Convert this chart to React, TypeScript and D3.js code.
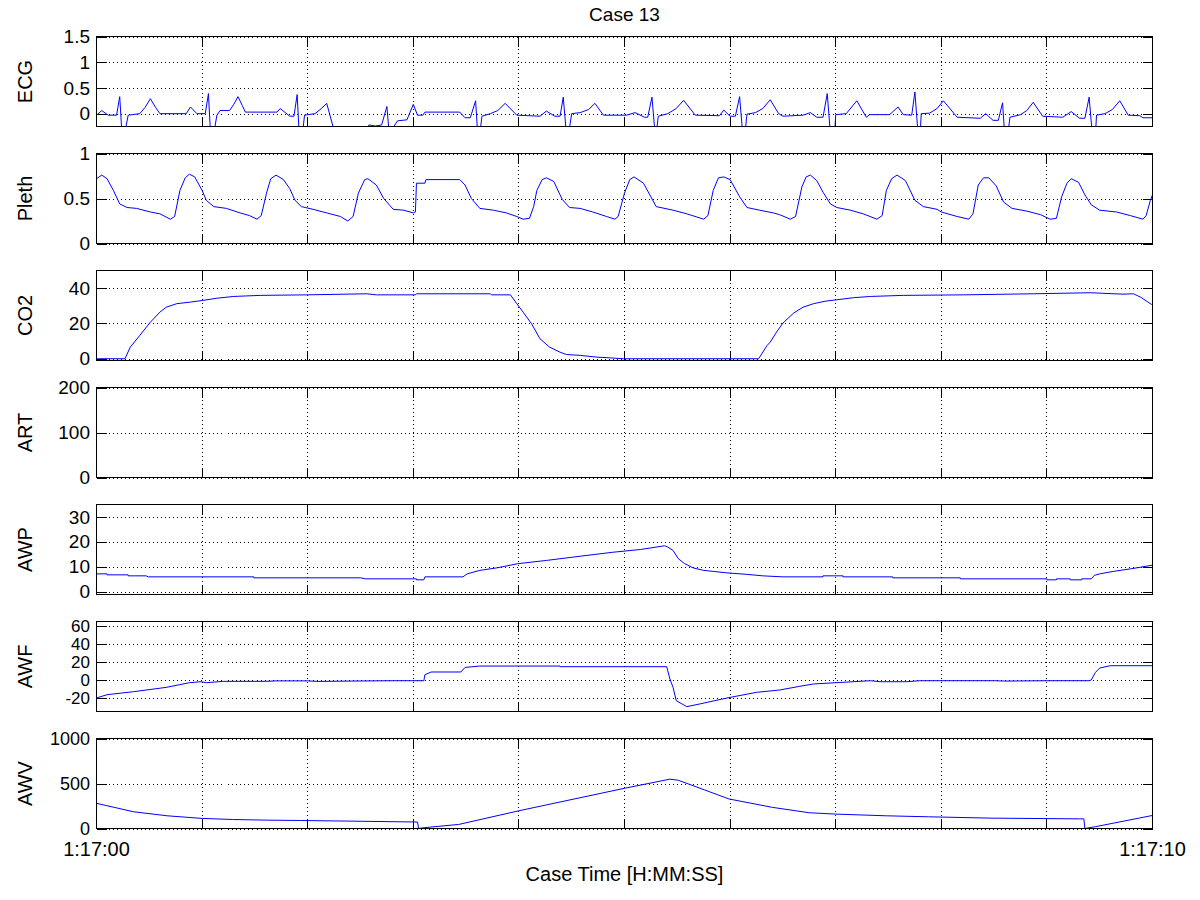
import React from "react";
import * as d3 from "d3";

type P = [number, number];

const chartTitle = "Case 13";
const xLabel = "Case Time [H:MM:SS]";
const xTicks = [0, 1, 2, 3, 4, 5, 6, 7, 8, 9, 10];
const xTickLabels = ["1:17:00", "", "", "", "", "", "", "", "", "", "1:17:10"];

const ecgPoints: P[] = [
  [0.0, -0.03], [0.05, 0.06], [0.11, -0.03], [0.19, -0.03], [0.22, 0.33], [0.24, -0.35], [0.27, -0.35], [0.3, -0.03],
  [0.41, 0.0], [0.46, 0.12], [0.51, 0.29], [0.56, 0.12], [0.6, 0.0], [0.85, 0.0], [0.89, 0.13], [0.95, 0.0], [1.03, 0.0], [1.06, 0.39],
  [1.08, -0.4], [1.11, -0.4], [1.14, -0.03], [1.17, 0.06], [1.26, 0.06], [1.3, 0.18], [1.34, 0.33], [1.38, 0.16], [1.41, 0.03], [1.71, 0.03],
  [1.74, 0.1], [1.83, -0.05], [1.87, -0.05], [1.9, 0.37], [1.92, -0.4], [1.95, -0.4], [1.97, -0.03], [2.07, 0.0],
  [2.13, 0.1], [2.18, 0.2], [2.24, -0.25], [2.31, -0.6], [2.5, -0.6], [2.58, -0.22], [2.64, -0.24], [2.7, -0.22], [2.75, 0.14],
  [2.77, -0.35], [2.8, -0.3], [2.85, -0.14], [2.94, -0.12], [3.0, 0.18], [3.04, -0.03], [3.09, -0.03], [3.11, 0.03],
  [3.44, 0.03], [3.49, -0.08], [3.54, -0.08], [3.59, 0.25], [3.61, -0.4], [3.63, -0.4], [3.65, -0.05], [3.73, 0.0],
  [3.8, 0.06], [3.87, 0.2], [3.98, -0.03], [4.2, -0.05], [4.26, 0.05], [4.34, -0.05], [4.39, -0.05], [4.42, 0.32], [4.45, -0.4],
  [4.47, -0.4], [4.5, 0.0], [4.58, 0.02], [4.66, 0.08], [4.72, 0.2], [4.8, -0.03], [5.02, -0.03], [5.1, 0.02], [5.19, -0.07],
  [5.22, -0.07], [5.26, 0.32], [5.29, -0.4], [5.3, -0.4], [5.32, -0.05], [5.41, 0.0], [5.49, 0.1], [5.56, 0.26], [5.67, -0.03],
  [5.9, -0.04], [5.94, 0.07], [6.0, -0.05], [6.05, -0.05], [6.09, 0.33], [6.12, -0.4], [6.14, -0.4], [6.16, -0.01],
  [6.24, 0.02], [6.31, 0.1], [6.38, 0.27], [6.46, 0.0], [6.5, -0.05], [6.69, -0.03], [6.76, 0.02], [6.82, -0.07], [6.88, -0.07],
  [6.92, 0.39], [6.95, -0.4], [6.99, -0.4], [7.0, -0.02], [7.1, 0.0], [7.2, 0.25], [7.29, -0.07], [7.32, -0.02],
  [7.51, -0.02], [7.59, 0.13], [7.64, -0.02], [7.72, -0.03], [7.75, 0.42], [7.78, -0.4], [7.8, -0.4], [7.81, 0.0],
  [7.89, 0.01], [7.96, 0.1], [8.02, 0.25], [8.15, -0.07], [8.37, -0.09], [8.42, 0.0], [8.49, -0.13], [8.54, -0.13], [8.58, 0.21],
  [8.6, -0.4], [8.63, -0.4], [8.65, -0.07], [8.75, -0.02], [8.81, 0.06], [8.87, 0.22], [8.96, -0.05], [9.15, -0.07], [9.23, 0.04],
  [9.31, -0.09], [9.36, -0.09], [9.4, 0.32], [9.43, -0.4], [9.46, -0.4], [9.47, -0.03], [9.55, 0.0], [9.62, 0.08], [9.69, 0.25],
  [9.77, -0.03], [9.88, -0.04], [9.91, -0.08], [10.0, -0.08],
];

const plethPoints: P[] = [
  [0.0, 0.72], [0.05, 0.76], [0.1, 0.72], [0.16, 0.59], [0.22, 0.44], [0.29, 0.4], [0.38, 0.39], [0.51, 0.35],
  [0.6, 0.33], [0.7, 0.27], [0.74, 0.3], [0.79, 0.59], [0.84, 0.73], [0.88, 0.77], [0.93, 0.74], [1.0, 0.59],
  [1.04, 0.48], [1.11, 0.41], [1.23, 0.39], [1.36, 0.34], [1.45, 0.31], [1.52, 0.27], [1.56, 0.31], [1.61, 0.56],
  [1.65, 0.72], [1.7, 0.76], [1.77, 0.71], [1.83, 0.61], [1.88, 0.48], [1.94, 0.41], [2.05, 0.38], [2.18, 0.34],
  [2.31, 0.3], [2.38, 0.25], [2.43, 0.3], [2.48, 0.56], [2.54, 0.71], [2.57, 0.72], [2.65, 0.65], [2.72, 0.5],
  [2.78, 0.42], [2.81, 0.38], [2.91, 0.37], [3.0, 0.34], [3.02, 0.35], [3.03, 0.67], [3.11, 0.67], [3.12, 0.71],
  [3.44, 0.71], [3.49, 0.65], [3.55, 0.5], [3.63, 0.39], [3.76, 0.37], [3.88, 0.34], [3.98, 0.3], [4.04, 0.27],
  [4.1, 0.28], [4.14, 0.41], [4.17, 0.59], [4.22, 0.71], [4.26, 0.73], [4.33, 0.69], [4.41, 0.49], [4.48, 0.4],
  [4.58, 0.39], [4.7, 0.35], [4.83, 0.3], [4.91, 0.27], [4.94, 0.3], [5.0, 0.56], [5.05, 0.71], [5.09, 0.74],
  [5.18, 0.67], [5.24, 0.54], [5.3, 0.41], [5.46, 0.37], [5.59, 0.33], [5.75, 0.27], [5.79, 0.31], [5.84, 0.59],
  [5.89, 0.73], [5.94, 0.74], [6.0, 0.71], [6.09, 0.52], [6.16, 0.4], [6.28, 0.37], [6.41, 0.34], [6.47, 0.32],
  [6.57, 0.27], [6.62, 0.3], [6.68, 0.63], [6.72, 0.74], [6.76, 0.76], [6.82, 0.7], [6.88, 0.57], [6.95, 0.44],
  [7.01, 0.4], [7.14, 0.37], [7.26, 0.33], [7.39, 0.27], [7.44, 0.31], [7.48, 0.59], [7.53, 0.72], [7.58, 0.76],
  [7.66, 0.7], [7.75, 0.48], [7.83, 0.41], [7.96, 0.38], [8.0, 0.35], [8.15, 0.3], [8.26, 0.27], [8.3, 0.33],
  [8.35, 0.65], [8.4, 0.73], [8.45, 0.73], [8.52, 0.64], [8.59, 0.46], [8.67, 0.39], [8.81, 0.36], [8.94, 0.32],
  [9.03, 0.27], [9.09, 0.28], [9.14, 0.52], [9.19, 0.67], [9.23, 0.72], [9.3, 0.68], [9.36, 0.54], [9.42, 0.43],
  [9.5, 0.37], [9.66, 0.35], [9.79, 0.31], [9.91, 0.27], [9.94, 0.31], [9.98, 0.48], [10.0, 0.54],
];

const co2Points: P[] = [
  [0.0, 0], [0.27, 0], [0.32, 6.6], [0.41, 13.2], [0.51, 20.7], [0.6, 26.4], [0.66, 29.2], [0.76, 31.2],
  [0.89, 32.1], [1.0, 33], [1.14, 34.3], [1.3, 35.3], [1.55, 35.9], [1.99, 36.2], [2.56, 36.8], [2.65, 36.2],
  [3.02, 36.2], [3.03, 36.8], [3.73, 36.8], [3.74, 36.2], [3.92, 36.2], [3.98, 31.2], [4.04, 26.4], [4.12, 19.8],
  [4.2, 11.3], [4.29, 6.6], [4.39, 3.7], [4.45, 2.4], [4.58, 1.9], [4.74, 0.9], [4.86, 0.5], [4.99, 0],
  [6.27, 0], [6.35, 7.5], [6.38, 9.4], [6.44, 15.1], [6.5, 20.2], [6.6, 25.8], [6.69, 29.2], [6.79, 31.2],
  [6.9, 32.6], [7.01, 33.4], [7.17, 34.6], [7.33, 35.3], [7.64, 35.9], [8.21, 36.2], [8.87, 36.8], [9.41, 37.4],
  [9.72, 36.6], [9.82, 36.8], [9.89, 34.8], [9.99, 30.8], [10.0, 30.5],
];

const artPoints: P[] = [];

const awpPoints: P[] = [
  [0.0, 7.1], [0.1, 7.1], [0.1, 6.7], [0.3, 6.7], [0.3, 6.3], [0.47, 6.3], [0.49, 5.9], [1.49, 5.9],
  [1.49, 5.5], [2.5, 5.5], [2.55, 5.1], [3.03, 5.1], [3.03, 4.7], [3.1, 4.7], [3.11, 5.9], [3.47, 5.9],
  [3.51, 7.1], [3.63, 8.5], [3.79, 9.5], [3.99, 11.2], [4.26, 12.5], [4.58, 14.2], [4.89, 15.8], [5.15, 16.9],
  [5.38, 18.4], [5.41, 17.9], [5.46, 16.5], [5.51, 13.2], [5.57, 11.2], [5.65, 9.5], [5.75, 8.5], [5.84, 8.1],
  [5.97, 7.5], [6.16, 6.9], [6.31, 6.3], [6.5, 5.9], [6.88, 5.9], [6.88, 6.3], [7.07, 6.3], [7.07, 5.9],
  [7.54, 5.9], [7.54, 5.5], [8.18, 5.5], [8.18, 5.1], [9.0, 5.1], [9.0, 4.7], [9.09, 4.7], [9.09, 5.1],
  [9.22, 5.1], [9.22, 4.7], [9.33, 4.7], [9.33, 5.1], [9.42, 5.1], [9.45, 6.5], [9.5, 7.1], [9.63, 8.1],
  [9.79, 9.1], [9.89, 9.8], [10.0, 10.6],
];

const awfPoints: P[] = [
  [0.0, -20], [0.1, -16.3], [0.35, -13], [0.66, -8.2], [0.88, -3], [0.99, -1.9], [1.04, -3], [1.2, -1.5],
  [1.6, -1.5], [1.7, -1.0], [2.0, -1.0], [2.1, -1.6], [2.4, -1.2], [2.8, -0.8], [3.1, -0.8], [3.11, 5.9],
  [3.17, 8.9], [3.45, 8.9], [3.49, 14], [3.63, 15.5], [4.39, 15.5], [4.39, 14.8], [5.4, 14.8], [5.43, 1.1],
  [5.46, -8.2], [5.49, -23], [5.59, -29.6], [5.71, -26.7], [5.97, -20], [6.25, -13.7], [6.47, -11.1], [6.66, -7],
  [6.79, -4.4], [7.0, -3], [7.33, -0.8], [7.42, -1.9], [7.67, -1.9], [7.8, -0.8], [8.5, -0.8], [8.6, -1.2],
  [9.0, -0.8], [9.4, -0.8], [9.42, 0], [9.46, 8.5], [9.5, 13.3], [9.6, 15.9], [10.0, 15.9],
];

const awvPoints: P[] = [
  [0.0, 280], [0.35, 186], [0.67, 141], [1.0, 112], [1.29, 100], [1.61, 93], [1.93, 89], [2.4, 82],
  [3.04, 72], [3.05, 0], [3.11, 10], [3.43, 45], [4.0, 197], [5.0, 447], [5.43, 548], [5.51, 536],
  [5.76, 428], [5.99, 328], [6.4, 235], [6.75, 175], [7.0, 160], [7.48, 141], [7.88, 130], [8.48, 115],
  [9.31, 107], [9.35, 107], [9.36, 0], [9.46, 20], [10.0, 145],
];

const panelNames = ["ECG", "Pleth", "CO2", "ART", "AWP", "AWF", "AWV"];
const panelDomains: [number, number][] = [
  [-0.25, 1.5], [0, 1], [-1, 50], [0, 200], [-1.2, 35], [-35, 65], [0, 1000],
];
const panelTicks = [
  [0, 0.5, 1, 1.5], [0, 0.5, 1], [0, 20, 40], [0, 100, 200], [0, 10, 20, 30], [-20, 0, 20, 40, 60], [0, 500, 1000],
];
const panelData = [ecgPoints, plethPoints, co2Points, artPoints, awpPoints, awfPoints, awvPoints];

const FONT = "Arial, 'Liberation Sans', Helvetica, sans-serif";
const LEFT = 96.5;
const RIGHT = 1152.5;
const TOP0 = 36.5;
const PH = 90;
const STEP = 117;
const TICK = 10;

export default function App() {
  const x = d3.scaleLinear().domain([0, 10]).range([LEFT, RIGHT]);
  return (
    <svg width={1200} height={900} style={{ position: "absolute", left: 0, top: 0, background: "#fff" }}
      fontFamily={FONT}>
      <rect x={0} y={0} width={1200} height={900} fill="#fff" />
      <text x={(LEFT + RIGHT) / 2} y={21} textAnchor="middle" fontSize={19}>{chartTitle}</text>
      {panelNames.map((name, i) => {
        const top = TOP0 + i * STEP;
        const bottom = top + PH;
        const y = d3.scaleLinear().domain(panelDomains[i]).range([bottom, top]);
        const line = d3.line<P>().x((d) => x(d[0])).y((d) => y(d[1]));
        const data = panelData[i];
        const clipId = `clip-${i}`;
        const isLast = i === panelNames.length - 1;
        const tickFont = i === 5 ? 17 : i === 6 ? 18 : 19;
        return (
          <g key={name}>
            <defs>
              <clipPath id={clipId}>
                <rect x={LEFT} y={top} width={RIGHT - LEFT} height={PH} />
              </clipPath>
            </defs>
            <g stroke="#000" strokeWidth={1} strokeDasharray="1,3" shapeRendering="crispEdges">
              {xTicks.slice(1, -1).map((t) => (
                <line key={"gx" + t} x1={x(t)} x2={x(t)} y1={top} y2={bottom} />
              ))}
              {panelTicks[i].map((t) => (
                <line key={"gy" + t} x1={LEFT} x2={RIGHT} y1={Math.round(y(t)) + 0.5} y2={Math.round(y(t)) + 0.5} />
              ))}
            </g>
            <g stroke="#000" strokeWidth={1} shapeRendering="crispEdges">
              {xTicks.map((t) => (
                <g key={"tx" + t}>
                  <line x1={x(t)} x2={x(t)} y1={bottom} y2={bottom - TICK} />
                  <line x1={x(t)} x2={x(t)} y1={top} y2={top + TICK} />
                </g>
              ))}
              {panelTicks[i].map((t) => (
                <g key={"ty" + t}>
                  <line x1={LEFT} x2={LEFT + TICK} y1={Math.round(y(t)) + 0.5} y2={Math.round(y(t)) + 0.5} />
                  <line x1={RIGHT - TICK} x2={RIGHT} y1={Math.round(y(t)) + 0.5} y2={Math.round(y(t)) + 0.5} />
                </g>
              ))}
            </g>
            {data.length > 0 && (
              <path d={line(data) || ""} fill="none" stroke="#0000ff" strokeWidth={1} clipPath={`url(#${clipId})`} />
            )}
            <rect x={LEFT} y={top} width={RIGHT - LEFT} height={PH} fill="none" stroke="#000" strokeWidth={1}
              shapeRendering="crispEdges" />
            {panelTicks[i].map((t) => (
              <text key={"yl" + t} x={90} y={y(t)} dy="0.35em" textAnchor="end" fontSize={tickFont}>
                {String(t)}
              </text>
            ))}
            <text transform={`translate(31.5,${(top + bottom) / 2}) rotate(-90)`} textAnchor="middle" fontSize={20}>
              {name}
            </text>
            {isLast &&
              xTicks.map((t, k) =>
                xTickLabels[k] ? (
                  <text key={"xl" + t} x={x(t)} y={856} textAnchor="middle" fontSize={20}>
                    {xTickLabels[k]}
                  </text>
                ) : null
              )}
          </g>
        );
      })}
      <text x={(LEFT + RIGHT) / 2} y={881} textAnchor="middle" fontSize={20}>{xLabel}</text>
    </svg>
  );
}
